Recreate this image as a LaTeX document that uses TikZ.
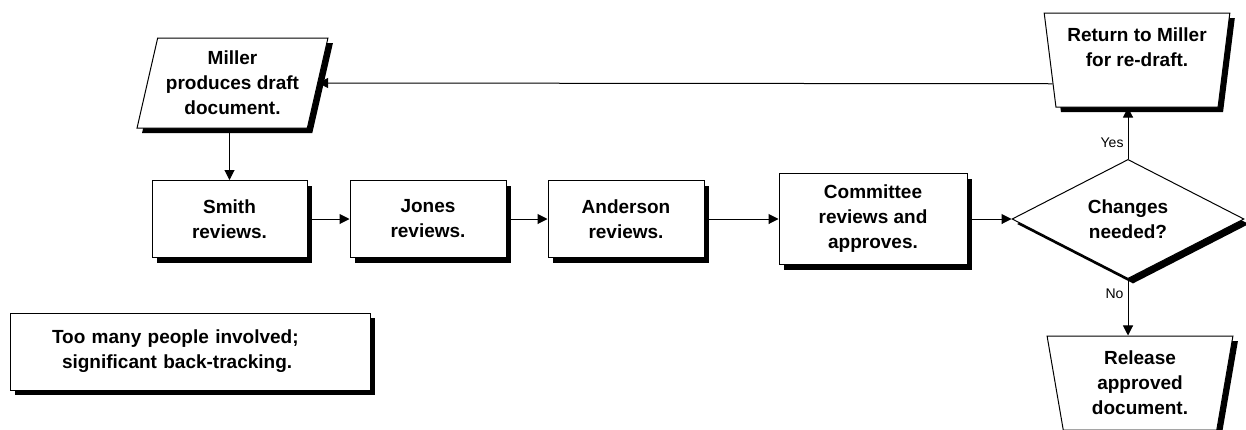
\documentclass[tikz,border=0pt]{standalone}
\usepackage{fontspec}
\setmainfont{Liberation Sans}
\usetikzlibrary{arrows.meta,shapes.geometric,shadows,calc}

\begin{document}
\begin{tikzpicture}[x=1pt,y=-1pt,
  every node/.style={align=center,inner sep=0pt,font=\fontsize{19}{25}\selectfont\bfseries},
  blackshadow/.style={drop shadow={shadow xshift=5pt,shadow yshift=-5pt,opacity=1,fill=black}},
  procbox/.style={rectangle,draw,fill=white,line width=1pt,blackshadow,minimum height=77pt},
  para/.style={trapezium,trapezium left angle=74,trapezium right angle=106,trapezium stretches=true,
    draw,fill=white,line width=1pt,blackshadow,minimum width=191pt,minimum height=90pt},
  manual/.style={trapezium,trapezium left angle=99,trapezium right angle=99,trapezium stretches=true,
    draw,fill=white,line width=1pt,blackshadow,minimum width=186pt,minimum height=94pt},
  decide/.style={diamond,draw,fill=white,line width=1pt,blackshadow,minimum width=232pt,minimum height=116pt},
  lbl/.style={font=\fontsize{14}{16}\selectfont\mdseries},
  arr/.style={line width=1pt,-{Triangle[length=10pt,width=10pt]}}]
  \useasboundingbox (0,0) rectangle (1246,429);

  \node[para] (mil) at (232.5,83) {Miller\\produces draft\\document.};
  \node[procbox,minimum width=155pt] (smi)  at (229.5,219) {Smith\\reviews.};
  \node[procbox,minimum width=156pt] (jon)  at (428,219)   {Jones\\reviews.};
  \node[procbox,minimum width=156pt] (ande) at (626,219)   {Anderson\\reviews.};
  \node[procbox,minimum width=188pt,minimum height=91pt] (com) at (873,219) {Committee\\reviews and\\approves.};
  \node[decide] (chg) at (1128,219) {Changes\\needed?};
  \node[manual] (ret) at (1137,60) {Return to Miller\\for re-draft.\\\mbox{}};
  \node[manual] (rel) at (1140,383) {Release\\approved\\document.};
  \node[procbox,minimum width=360pt,text width=276pt,align=left] (note) at (190,351.5)
    {Too many people involved;\\\hspace*{10pt}significant back-tracking.};

  \draw[arr] (mil.south -| smi.north) -- (smi.north);
  \draw[arr] (smi) -- (jon);
  \draw[arr] (jon) -- (ande);
  \draw[arr] (ande) -- (com);
  \draw[arr] (com) -- (chg);
  \draw[arr] (chg.north) -- node[lbl,pos=0.31,left=4pt]{Yes} (chg.north |- ret.south);
  \draw[arr] (chg.south) -- node[lbl,pos=0.26,left=4pt]{No} (chg.south |- rel.north);
  \draw[arr] ($(ret.top left corner)!0.75!(ret.bottom left corner)$) -- (mil.east);
\end{tikzpicture}
\end{document}
